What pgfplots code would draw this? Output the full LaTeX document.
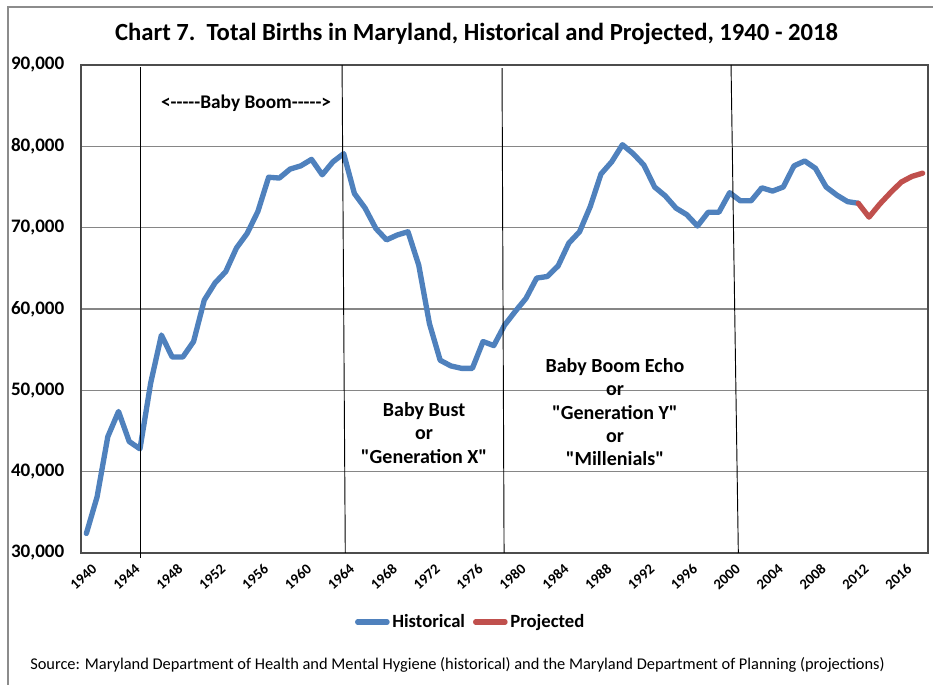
\documentclass[border=0pt]{standalone}
\usepackage{pgfplots}
\pgfplotsset{compat=1.18}
\usepackage{fontspec}
\setmainfont{Carlito}[Ligatures=TeXOff]
\definecolor{histblue}{HTML}{4F81BD}
\definecolor{projred}{HTML}{C0504D}
\definecolor{gridgray}{HTML}{868686}
\definecolor{framegray}{HTML}{8C8C8C}

\pgfplotstableread{
year births
1940 32400
1941 36900
1942 44300
1943 47400
1944 43700
1945 42800
1946 50900
1947 56800
1948 54100
1949 54100
1950 56000
1951 61100
1952 63200
1953 64600
1954 67500
1955 69300
1956 72000
1957 76200
1958 76100
1959 77200
1960 77600
1961 78400
1962 76500
1963 78100
1964 79100
1965 74200
1966 72400
1967 69900
1968 68500
1969 69100
1970 69500
1971 65400
1972 58200
1973 53700
1974 53000
1975 52700
1976 52700
1977 56000
1978 55500
1979 58000
1980 59700
1981 61300
1982 63800
1983 64000
1984 65300
1985 68100
1986 69500
1987 72600
1988 76600
1989 78100
1990 80200
1991 79100
1992 77700
1993 75000
1994 73900
1995 72400
1996 71600
1997 70200
1998 71900
1999 71900
2000 74300
2001 73300
2002 73300
2003 74900
2004 74500
2005 75000
2006 77600
2007 78200
2008 77300
2009 75000
2010 74000
2011 73200
2012 73000
}\historical

\pgfplotstableread{
year births
2012 73000
2013 71300
2014 72900
2015 74300
2016 75600
2017 76300
2018 76700
}\projected

\begin{document}
\begin{tikzpicture}
\useasboundingbox (0,0) rectangle (699.75pt,513.75pt);
% chart area border (only left and top fall inside the picture)
\draw[framegray, line width=0.8pt] (6pt,-5pt) -- (6pt,508.5pt) -- (710pt,508.5pt);

\node[font=\fontsize{18.5}{22}\selectfont\bfseries] at (357.4pt,488pt)
  {Chart 7.\ \ Total Births in Maryland, Historical and Projected, 1940 - 2018};

\begin{axis}[
  at={(60.75pt,99pt)}, anchor=south west,
  scale only axis,
  width=635.25pt, height=366pt,
  xmin=1939.5, xmax=2018.5,
  ymin=30000, ymax=90000,
  xtick={1940,1944,...,2016},
  ytick={30000,40000,...,90000},
  ymajorgrids=true,
  grid style={gridgray, line width=0.8pt},
  axis line style={black!70, line width=0.9pt},
  major tick length=0pt,
  clip=false,
  /pgf/number format/assume math mode=true,
  scaled y ticks=false,
  yticklabel style={font=\fontsize{14.3}{16}\selectfont\bfseries, xshift=-9pt,
    /pgf/number format/.cd, fixed, 1000 sep={,}},
  xticklabel style={font=\fontsize{11}{13}\selectfont\bfseries, rotate=42, anchor=east,
    yshift=-12pt, xshift=1pt,
    /pgf/number format/.cd, 1000 sep={}},
  legend columns=2,
  legend style={draw=none, fill=none, at={(0.4605,-0.1414)}, anchor=center,
    font=\fontsize{14}{16}\selectfont\bfseries,
    /tikz/every even column/.append style={column sep=4pt}},
  legend image code/.code={\draw[#1, line width=4pt, line cap=round] (0pt,0pt) -- (22pt,0pt);},
]
\addplot[histblue, line width=4pt, line join=round, line cap=round] table[x=year, y=births] {\historical};
\addlegendentry{Historical}
\addplot[projred, line width=4pt, line join=round, line cap=round] table[x=year, y=births] {\projected};
\addlegendentry{Projected}

% generation boundaries
\draw[black, line width=0.7pt] (axis cs:1945.07,89750) -- (axis cs:1945.07,29380);
\draw[black, line width=0.7pt] (axis cs:1963.85,90000) -- (axis cs:1964.15,30000);
\draw[black, line width=0.7pt] (axis cs:1978.77,89630) -- (axis cs:1978.96,30000);
\draw[black, line width=0.7pt] (axis cs:2000.13,90000) -- (axis cs:2000.81,30000);

\node[font=\fontsize{14.5}{17}\selectfont\bfseries] at (axis cs:1954.9,85330) {<-----Baby Boom----->};
\node[font=\fontsize{15}{17.5}\selectfont\bfseries, align=center] at (axis cs:1971.5,44750)
  {Baby Bust\\or\\"Generation X"};
\node[font=\fontsize{15}{17.5}\selectfont\bfseries, align=center] at (axis cs:1989.3,47300)
  {Baby Boom Echo\\or\\"Generation Y"\\or\\"Millenials"};
\end{axis}

\node[anchor=west, inner sep=0pt, font=\fontsize{12.3}{15}\selectfont] at (22.5pt,15pt)
  {Source: Maryland Department of Health and Mental Hygiene (historical) and the Maryland Department of Planning (projections)};
\end{tikzpicture}
\end{document}
